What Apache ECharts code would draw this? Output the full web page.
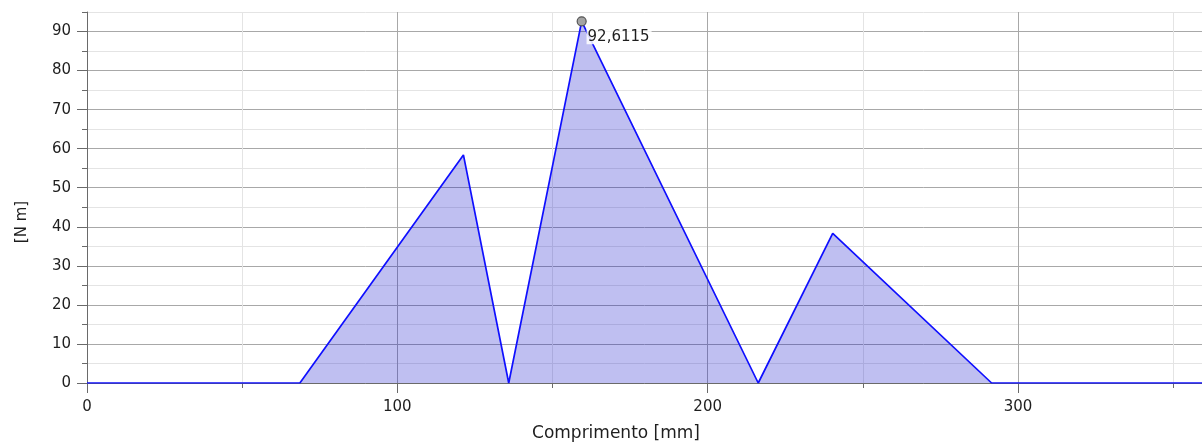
<!DOCTYPE html>
<html>
<head>
<meta charset="utf-8">
<script src="https://cdn.jsdelivr.net/npm/echarts@6/dist/echarts.min.js"></script>
<style>
  html, body { margin: 0; padding: 0; background: #ffffff; }
  #chart { width: 1202px; height: 447px; }
</style>
</head>
<body>
<div id="chart"></div>
<script>
// Bending moment along the shaft: positions in mm, moments in N·m
const positions = [0, 68.6, 121.3, 135.9, 159.4, 216.3, 240.3, 291.5, 360];
const moments   = [0, 0, 58.4, 0, 92.6115, 0, 38.3, 0, 0];

// Maximum moment, marked and labelled on the curve
const peakPosition = 159.4;
const peakMoment = 92.6115;

// Labelled ticks on each axis
const xTickValues = [0, 100, 200, 300];
const yTickValues = [0, 10, 20, 30, 40, 50, 60, 70, 80, 90];

const xAxisTitle = 'Comprimento [mm]';
const yAxisTitle = '[N m]';

const X_MAX = 359.3;
const Y_MAX = 95;

const FONT = 'DejaVu Sans';
const TEXT = '#1e1e1e';
const AXIS = '#6a6a6a';
const GRID_MAJOR = '#a8a8a8';
const GRID_MINOR = '#e4e4e4';

const chart = echarts.init(document.getElementById('chart'), null, { renderer: 'canvas' });

const seriesData = positions.map((x, i) => [x, moments[i]]);

chart.setOption({
  animation: false,
  backgroundColor: '#ffffff',
  grid: { left: 87, top: 12, right: 0, height: 371, containLabel: false },
  xAxis: [
    {
      type: 'value',
      position: 'bottom',
      min: 0,
      max: X_MAX,
      interval: 100,
      name: xAxisTitle,
      nameLocation: 'middle',
      nameGap: 42,
      nameTextStyle: { fontFamily: FONT, fontSize: 17, color: TEXT, padding: [0, 57, 0, 0] },
      axisLine: { show: true, onZero: false, lineStyle: { color: AXIS, width: 1 } },
      axisTick: { show: true, length: 10, lineStyle: { color: AXIS }, customValues: xTickValues },
      axisLabel: {
        fontFamily: FONT, fontSize: 15, color: TEXT, margin: 17,
        customValues: xTickValues
      },
      splitLine: { show: true, lineStyle: { color: GRID_MAJOR, width: 1 } }
    },
    {
      // half-step ticks and light grid lines every 50 mm
      type: 'value',
      position: 'bottom',
      min: 0,
      max: X_MAX,
      interval: 50,
      axisLine: { show: false },
      axisTick: { show: true, length: 5, lineStyle: { color: AXIS } },
      axisLabel: { show: false },
      splitLine: { show: true, lineStyle: { color: ['rgba(0,0,0,0)', GRID_MINOR], width: 1 } }
    }
  ],
  yAxis: [
    {
      type: 'value',
      position: 'left',
      min: 0,
      max: Y_MAX,
      interval: 10,
      name: yAxisTitle,
      nameLocation: 'middle',
      nameGap: 57,
      nameTextStyle: { fontFamily: FONT, fontSize: 15, color: TEXT, padding: [0, 49, 0, 0] },
      axisLine: { show: true, lineStyle: { color: AXIS, width: 1 } },
      axisTick: { show: true, length: 10, lineStyle: { color: AXIS }, customValues: yTickValues },
      axisLabel: {
        fontFamily: FONT, fontSize: 15, color: TEXT, margin: 16,
        customValues: yTickValues
      },
      splitLine: { show: true, lineStyle: { color: GRID_MAJOR, width: 1 } }
    },
    {
      // half-step ticks and light grid lines every 5 N·m
      type: 'value',
      position: 'left',
      min: 0,
      max: Y_MAX,
      interval: 5,
      axisLine: { show: false },
      axisTick: { show: true, length: 5, lineStyle: { color: AXIS } },
      axisLabel: { show: false },
      splitLine: { show: true, lineStyle: { color: ['rgba(0,0,0,0)', GRID_MINOR], width: 1 } }
    }
  ],
  series: [
    {
      type: 'line',
      xAxisIndex: 0,
      yAxisIndex: 0,
      data: seriesData,
      showSymbol: false,
      smooth: false,
      lineStyle: { color: '#0f0fff', width: 1.7 },
      itemStyle: { color: '#0f0fff' },
      areaStyle: { color: 'rgba(0, 0, 200, 0.25)', opacity: 1, origin: 'start' },
      markPoint: {
        symbol: 'circle',
        symbolSize: 9,
        itemStyle: { color: '#a4a4a4', borderColor: '#555555', borderWidth: 1.2 },
        label: {
          show: true,
          position: [10, 12],
          fontFamily: FONT,
          fontSize: 15,
          color: TEXT,
          backgroundColor: 'rgba(255,255,255,0.85)',
          padding: [1, 2, 0, 1],
          formatter: (p) => String(p.value).replace('.', ',')
        },
        data: [{ coord: [peakPosition, peakMoment], value: peakMoment }]
      }
    }
  ]
});
</script>
</body>
</html>
